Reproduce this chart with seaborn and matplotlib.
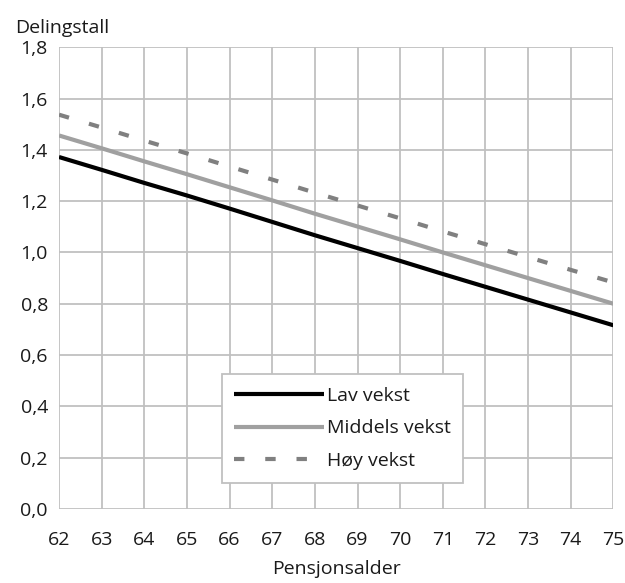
import matplotlib
matplotlib.use("Agg")
import matplotlib.pyplot as plt
import seaborn as sns
import pandas as pd
from matplotlib.ticker import FuncFormatter, MultipleLocator

years = list(range(62, 76))
lav = [1.372, 1.322, 1.271, 1.222, 1.171, 1.119, 1.067, 1.017, 0.967, 0.916, 0.866, 0.816, 0.766, 0.716]
middels = [1.456, 1.406, 1.355, 1.305, 1.254, 1.203, 1.151, 1.101, 1.051, 1.000, 0.950, 0.900, 0.850, 0.800]
hoy = [1.537, 1.487, 1.436, 1.386, 1.335, 1.284, 1.233, 1.183, 1.133, 1.082, 1.032, 0.982, 0.932, 0.883]
series_names = ["Lav vekst", "Middels vekst", "Høy vekst"]

sns.set_style("white")
plt.rcParams["font.family"] = ["Open Sans", "DejaVu Sans"]

df = pd.DataFrame({
    "Pensjonsalder": years * 3,
    "Delingstall": lav + middels + hoy,
    "Serie": [series_names[0]] * 14 + [series_names[1]] * 14 + [series_names[2]] * 14,
})

FS = 14
fig = plt.figure(figsize=(6.25, 5.83), dpi=100)
ax = fig.add_axes([0.0944, 0.127, 0.887, 0.792])

sns.lineplot(
    data=df, x="Pensjonsalder", y="Delingstall", hue="Serie", style="Serie",
    palette={"Lav vekst": "#000000", "Middels vekst": "#a0a0a0", "Høy vekst": "#808080"},
    dashes={"Lav vekst": "", "Middels vekst": "", "Høy vekst": (2.5, 5)},
    linewidth=3, ax=ax, zorder=3,
)
for line in ax.get_lines():
    line.set_solid_capstyle("butt")
    line.set_dash_capstyle("butt")

ax.set_xlim(62, 75)
ax.set_ylim(0, 1.8)
ax.xaxis.set_major_locator(MultipleLocator(1))
ax.yaxis.set_major_locator(MultipleLocator(0.2))
ax.yaxis.set_major_formatter(FuncFormatter(lambda v, p: f"{v:.1f}".replace(".", ",")))
ax.grid(True, color="#c0c0c0", linewidth=1.3, zorder=0)
ax.set_axisbelow(True)
for s in ax.spines.values():
    s.set_visible(False)
ax.tick_params(axis="both", length=5, width=1.3, color="#c0c0c0", labelsize=FS,
               labelcolor="#1a1a1a", pad=3)
ax.tick_params(axis="x", pad=11)
ax.set_xlabel("Pensjonsalder", fontsize=FS, color="#1a1a1a", labelpad=8)
ax.set_ylabel("")
fig.text(0.024, 0.943, "Delingstall", fontsize=FS, color="#1a1a1a", ha="left", va="baseline")

leg = ax.legend(
    loc="lower left", bbox_to_anchor=(0.276, 0.036), handlelength=4.6, handletextpad=0.15,
    fontsize=FS, frameon=True, fancybox=False, edgecolor="#c0c0c0", framealpha=1,
    borderpad=0.65, labelspacing=0.75, title=None,
)
leg.get_frame().set_linewidth(1.3)
for t in leg.get_texts():
    t.set_color("#1a1a1a")

fig.savefig("out.png", dpi=100)
